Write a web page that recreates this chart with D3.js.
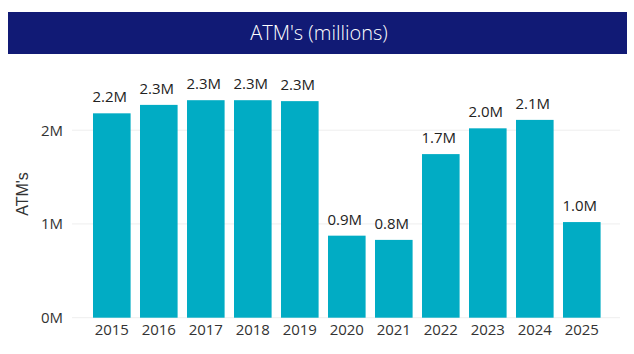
<!DOCTYPE html>
<html>
<head>
<meta charset="utf-8">
<script src="https://cdn.jsdelivr.net/npm/d3@7"></script>
<style>
  body { margin: 0; background: #fff; }
  text { font-family: "Segoe UI", "Open Sans", "Liberation Sans", sans-serif; }
</style>
</head>
<body>
<script>
const years = ['2015', '2016', '2017', '2018', '2019', '2020', '2021', '2022', '2023', '2024', '2025']
const atms = [2.18, 2.27, 2.32, 2.32, 2.31, 0.875, 0.83, 1.745, 2.02, 2.11, 1.02]
const yticks = [0, 1, 2]

const W = 634, H = 354
const svg = d3.select('body').append('svg')
  .attr('width', W)
  .attr('height', H)

// title banner
svg.append('rect')
  .attr('x', 8).attr('y', 12)
  .attr('width', 619).attr('height', 42)
  .attr('fill', '#111a75')
svg.append('text')
  .attr('x', 319).attr('y', 40)
  .attr('text-anchor', 'middle')
  .attr('fill', '#fff')
  .attr('font-size', 20)
  .attr('font-weight', 300)
  .text("ATM's (millions)")

const x = d3.scaleBand().domain(years).range([88.3, 605.3]).paddingInner(0.2).paddingOuter(0.1)
const y = d3.scaleLinear().domain([0, 2]).range([317.7, 130.2])

const g = svg.append('g')

// gridlines
g.selectAll('line.grid')
  .data(yticks)
  .join('line')
  .attr('class', 'grid')
  .attr('x1', 72).attr('x2', 620)
  .attr('y1', d => y(d)).attr('y2', d => y(d))
  .attr('stroke', '#eeeeee')

const yaxis = d3.axisLeft(y).tickValues(yticks).tickFormat(d => d + 'M').tickSize(0).tickPadding(0)
g.append('g')
  .attr('transform', 'translate(63,0)')
  .call(yaxis)
  .call(s => s.select('.domain').remove())
  .call(s => s.selectAll('text').attr('font-size', 15).attr('fill', '#333').attr('font-family', null))

const xaxis = d3.axisBottom(x).tickSize(0).tickPadding(6)
g.append('g')
  .attr('transform', 'translate(0,318)')
  .call(xaxis)
  .call(s => s.select('.domain').remove())
  .call(s => s.selectAll('text').attr('font-size', 15).attr('fill', '#333').attr('font-family', null))

svg.append('text')
  .attr('transform', 'translate(28,194) rotate(-90)')
  .attr('text-anchor', 'middle')
  .attr('font-size', 16)
  .attr('fill', '#333')
  .style('font-family', '"Liberation Sans", Arial, sans-serif')
  .text("ATM's")

g.selectAll('rect.bar')
  .data(atms)
  .join('rect')
  .attr('class', 'bar')
  .attr('x', (d, i) => x(years[i]))
  .attr('width', x.bandwidth())
  .attr('y', d => y(d))
  .attr('height', d => y(0) - y(d))
  .attr('fill', '#01acc4')

g.selectAll('text.lbl')
  .data(atms)
  .join('text')
  .attr('class', 'lbl')
  .attr('x', (d, i) => x(years[i]) + x.bandwidth() / 2 - 2)
  .attr('y', d => y(d) - 11)
  .attr('text-anchor', 'middle')
  .attr('font-size', 15)
  .attr('fill', '#222')
  .text(d => d.toFixed(1) + 'M')
</script>
</body>
</html>
